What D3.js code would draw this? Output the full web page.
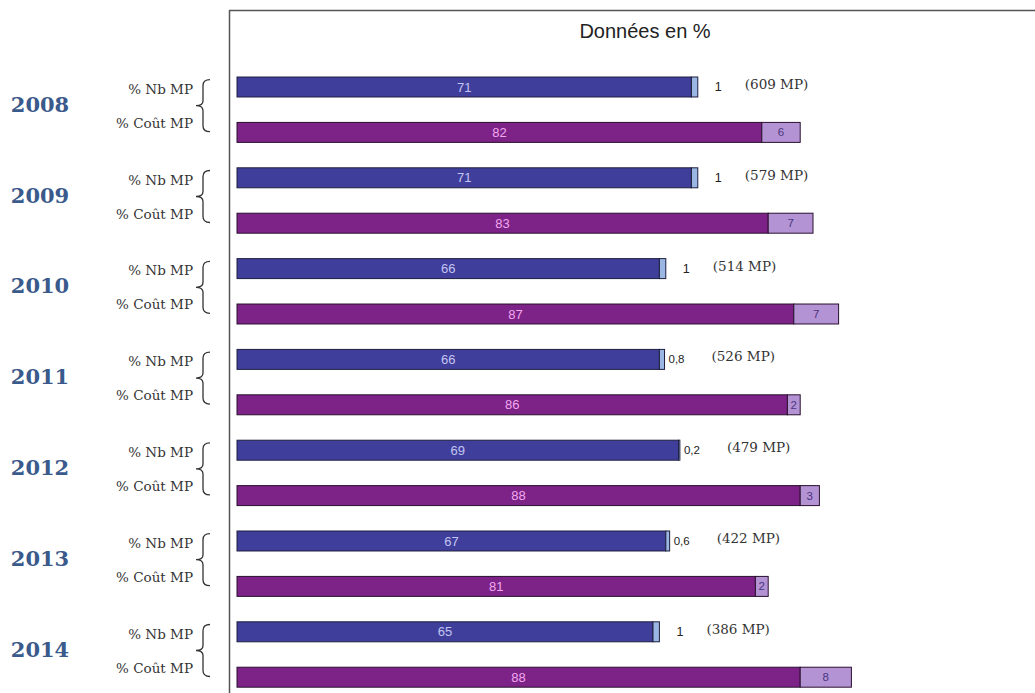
<!DOCTYPE html>
<html><head><meta charset="utf-8">
<script src="https://cdn.jsdelivr.net/npm/d3@7"></script>
<style>html,body{margin:0;padding:0;background:#fff;}svg{display:block;}</style>
</head><body>
<svg id="c" width="1035" height="693"></svg>
<script>
const years = [2008, 2009, 2010, 2011, 2012, 2013, 2014];
const nbMain = [71, 71, 66, 66, 69, 67, 65];
const nbExtra = [1, 1, 1, 0.8, 0.2, 0.6, 1];
const coutMain = [82, 83, 87, 86, 88, 81, 88];
const coutExtra = [6, 7, 7, 2, 3, 2, 8];
const mpCounts = [609, 579, 514, 526, 479, 422, 386];
const seriesLabels = ["% Nb MP", "% Coût MP"];
const title = "Données en %";

const svg = d3.select("#c");
const x = d3.scaleLinear().domain([0, 100]).range([237, 877]);
const rowKeys = [];
years.forEach(y => { rowKeys.push(y + "-nb"); rowKeys.push(y + "-cout"); });
const yRow = d3.scaleBand().domain(rowKeys).range([64.3, 699.9]).paddingInner(0.56).paddingOuter(0.28);
const bw = yRow.bandwidth();
const fmt = v => String(v).replace(".", ",");

// frame
svg.append("line").attr("x1", 229).attr("x2", 1035).attr("y1", 10.5).attr("y2", 10.5).attr("stroke", "#555").attr("stroke-width", 1.5);
svg.append("line").attr("x1", 229.5).attr("x2", 229.5).attr("y1", 10).attr("y2", 693).attr("stroke", "#555").attr("stroke-width", 1.5);

svg.append("text").attr("x", 645).attr("y", 38).attr("text-anchor", "middle")
  .attr("font-family", "Liberation Sans, Arial, sans-serif").attr("font-size", 20).attr("fill", "#222").text(title);

const rows = years.map((yr, i) => ({yr, i, nb: nbMain[i], nbE: nbExtra[i], c: coutMain[i], cE: coutExtra[i], mp: mpCounts[i]}));

const g = svg.selectAll("g.year").data(rows).join("g").attr("class", "year");

// Nb bars
g.append("rect").attr("x", x(0)).attr("y", d => yRow(d.yr + "-nb")).attr("width", d => x(d.nb) - x(0)).attr("height", bw)
  .attr("fill", "#3f3f9b").attr("stroke", "#1e1e40").attr("stroke-width", 1);
g.append("rect").attr("x", d => x(d.nb)).attr("y", d => yRow(d.yr + "-nb")).attr("width", d => x(d.nb + d.nbE) - x(d.nb)).attr("height", bw)
  .attr("fill", "#9ab6e2").attr("stroke", "#1e1e40").attr("stroke-width", 1);
g.append("text").attr("x", d => (x(0) + x(d.nb)) / 2).attr("y", d => yRow(d.yr + "-nb") + bw / 2 + 4.5).attr("text-anchor", "middle")
  .attr("font-family", "Liberation Sans, Arial, sans-serif").attr("font-size", 13).attr("fill", "#c4c4f2").text(d => d.nb);
g.append("text").attr("x", d => x(d.nb + d.nbE) + (d.nbE < 1 ? 4 : 17)).attr("y", d => yRow(d.yr + "-nb") + bw / 2 + 4)
  .attr("font-family", "Liberation Sans, Arial, sans-serif").attr("font-size", d => d.nbE < 1 ? 11.5 : 12.5).attr("fill", "#222").text(d => fmt(d.nbE));
g.append("text").attr("x", d => x(d.nb + d.nbE) + 47).attr("y", d => yRow(d.yr + "-nb") + bw / 2 + 2)
  .attr("font-family", "DejaVu Serif, serif").attr("font-size", 13.5).attr("fill", "#333").text(d => "(" + d.mp + " MP)");

// Coût bars
g.append("rect").attr("x", x(0)).attr("y", d => yRow(d.yr + "-cout")).attr("width", d => x(d.c) - x(0)).attr("height", bw)
  .attr("fill", "#7d2387").attr("stroke", "#2a1030").attr("stroke-width", 1);
g.append("rect").attr("x", d => x(d.c)).attr("y", d => yRow(d.yr + "-cout")).attr("width", d => x(d.c + d.cE) - x(d.c)).attr("height", bw)
  .attr("fill", "#b493d4").attr("stroke", "#2a1030").attr("stroke-width", 1);
g.append("text").attr("x", d => (x(0) + x(d.c)) / 2).attr("y", d => yRow(d.yr + "-cout") + bw / 2 + 4.5).attr("text-anchor", "middle")
  .attr("font-family", "Liberation Sans, Arial, sans-serif").attr("font-size", 13).attr("fill", "#f2a8f0").text(d => d.c);
g.append("text").attr("x", d => (x(d.c) + x(d.c + d.cE)) / 2).attr("y", d => yRow(d.yr + "-cout") + bw / 2 + 4).attr("text-anchor", "middle")
  .attr("font-family", "Liberation Sans, Arial, sans-serif").attr("font-size", 11.5).attr("fill", "#4b3580").text(d => d.cE);

// left labels
const mid = d => (yRow(d.yr + "-nb") + yRow(d.yr + "-cout") + bw) / 2 - 4;
g.append("text").attr("x", 40).attr("y", d => mid(d) + 6).attr("text-anchor", "middle")
  .attr("font-family", "DejaVu Serif, serif").attr("font-weight", "bold").attr("font-size", 21).attr("fill", "#3b5a8c").text(d => d.yr);
g.append("text").attr("x", 193).attr("y", d => mid(d) - 17 + 5).attr("text-anchor", "end")
  .attr("font-family", "DejaVu Serif, serif").attr("font-size", 13.5).attr("fill", "#333").text(seriesLabels[0]);
g.append("text").attr("x", 193).attr("y", d => mid(d) + 17 + 5).attr("text-anchor", "end")
  .attr("font-family", "DejaVu Serif, serif").attr("font-size", 13.5).attr("fill", "#333").text(seriesLabels[1]);
g.append("path").attr("fill", "none").attr("stroke", "#333").attr("stroke-width", 1.3)
  .attr("d", d => {
    const m = mid(d), y0 = m - 26, y1 = m + 26, xt = 196, xs = 203, xe = 210;
    return `M${xe},${y0} Q${xs},${y0} ${xs},${y0 + 6} L${xs},${m - 5} Q${xs},${m} ${xt},${m} Q${xs},${m} ${xs},${m + 5} L${xs},${y1 - 6} Q${xs},${y1} ${xe},${y1}`;
  });
</script>
</body></html>
